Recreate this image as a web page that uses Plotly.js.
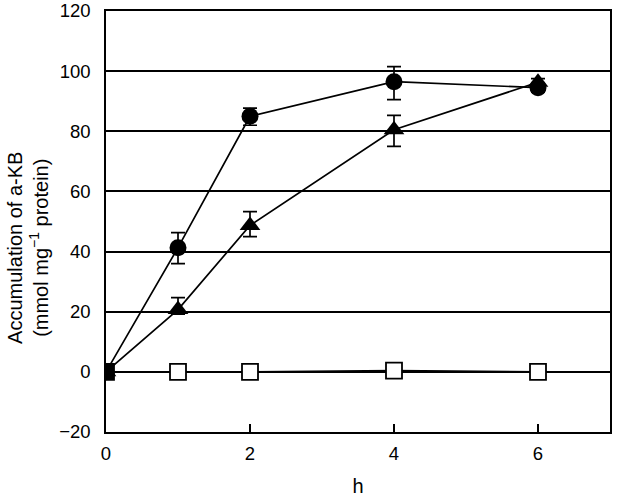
<!DOCTYPE html>
<html><head><meta charset="utf-8">
<script src="https://cdn.plot.ly/plotly-3.0.1.min.js"></script>
<style>html,body{margin:0;padding:0;background:#fff}#chart{width:625px;height:497px}</style>
</head><body><div id="chart"></div>
<script>
const hours = [0, 1, 2, 4, 6];
const circleVals = [0, 41.3, 85, 96.5, 94.5];
const circleErrPlus = [0, 5, 2.7, 5, 1.5];
const circleErrMinus = [0, 5.3, 3, 6, 1.5];
const triangleVals = [0, 20.7, 48.7, 80.5, 96.3];
const triangleErrPlus = [0, 4, 4.6, 4.8, 1.2];
const triangleErrMinus = [0, 1.5, 3.7, 5.5, 1.2];
const squareVals = [0, 0, 0, 0.4, 0];
const xTicks = [0, 2, 4, 6];
const yTicks = [-20, 0, 20, 40, 60, 80, 100, 120];

const lineStyle = {color: '#000', width: 1.7};
const errStyle = (p, m) => ({type: 'data', symmetric: false, array: p, arrayminus: m, color: '#000', thickness: 1.7, width: 7});

const traces = [
  {x: hours, y: squareVals, mode: 'lines+markers', line: lineStyle,
   marker: {symbol: 'square', size: 16, color: ['#000', '#fff', '#fff', '#fff', '#fff'], line: {color: '#000', width: 1.8}}},
  {x: hours, y: triangleVals, mode: 'lines+markers', line: lineStyle,
   error_y: errStyle(triangleErrPlus, triangleErrMinus),
   marker: {symbol: 'triangle-up', size: 18, color: '#000'}},
  {x: hours, y: circleVals, mode: 'lines+markers', line: lineStyle,
   error_y: errStyle(circleErrPlus, circleErrMinus),
   marker: {symbol: 'circle', size: 17, color: '#000'}}
];

const font = {family: 'Liberation Sans, Arial, sans-serif', size: 18.5, color: '#000'};
const titleFont = {family: 'Liberation Sans, Arial, sans-serif', size: 20, color: '#000'};
const layout = {
  width: 625, height: 497,
  margin: {l: 106, r: 15, t: 11, b: 65},
  paper_bgcolor: '#fff', plot_bgcolor: '#fff',
  showlegend: false,
  font: font,
  xaxis: {
    range: [0, 7], tickvals: xTicks, ticktext: xTicks.map(String),
    ticks: 'inside', ticklen: 8, tickwidth: 1.4, tickcolor: '#000',
    showgrid: false, zeroline: false,
    showline: true, linecolor: '#000', linewidth: 1.7, mirror: true,
    tickfont: font, ticklabelstandoff: 4,
    title: {text: 'h', font: titleFont, standoff: 16}
  },
  yaxis: {
    range: [-20, 120], tickvals: yTicks, ticktext: yTicks.map(v => v < 0 ? '\u2212' + Math.abs(v) : String(v)),
    ticks: '', showgrid: true, gridcolor: '#000', gridwidth: 2,
    zeroline: false,
    showline: true, linecolor: '#000', linewidth: 1.7, mirror: true,
    tickfont: font, ticklabelstandoff: 10
  },
  annotations: [{
    text: 'Accumulation of a-KB<br>(mmol mg<sup>\u22121</sup> protein)',
    font: titleFont, textangle: -90, showarrow: false,
    xref: 'paper', yref: 'paper', x: -0.155, y: 0.437,
    xanchor: 'center', yanchor: 'middle'
  }]
};
Plotly.newPlot('chart', traces, layout, {displayModeBar: false, staticPlot: true});
</script></body></html>
